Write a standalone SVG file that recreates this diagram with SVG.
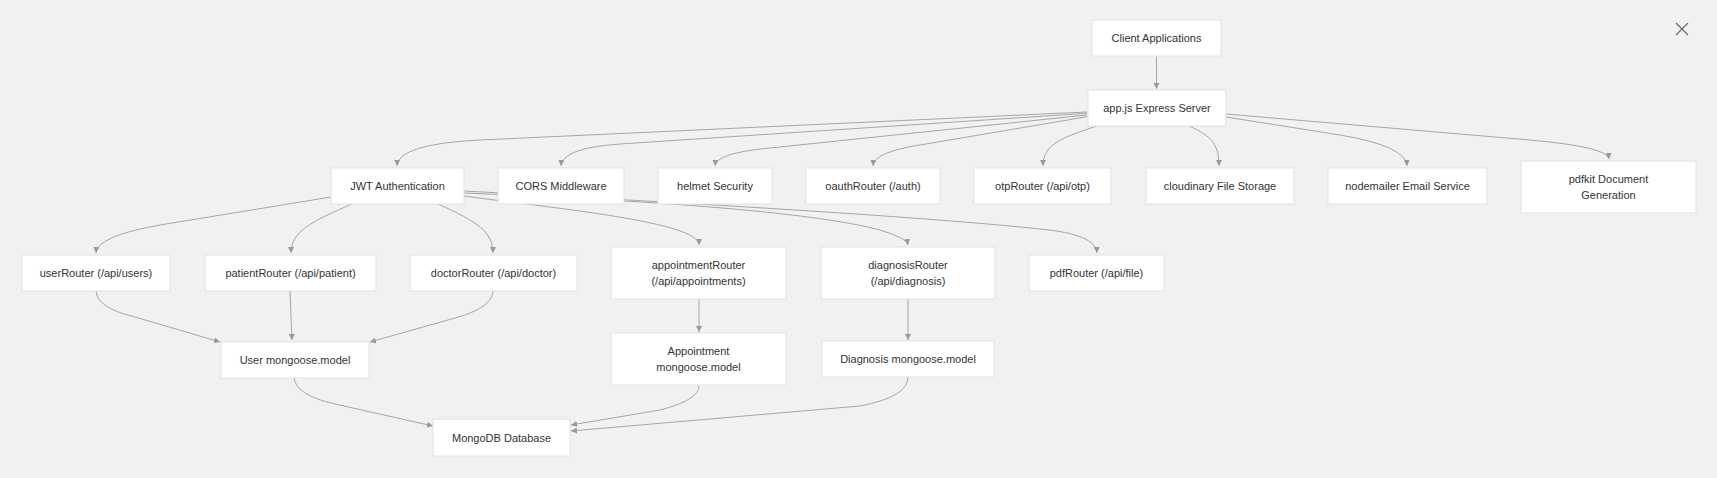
<svg xmlns="http://www.w3.org/2000/svg" width="1717" height="478" viewBox="0 0 1717 478">
<style>
.bg{fill:#f2f1f0}
.node rect{fill:#ffffff;stroke:#e2e2e2;stroke-width:1}
.node text{font-family:"Liberation Sans",Arial,sans-serif;font-size:11px;fill:#333333;text-anchor:middle;dominant-baseline:central}
.edge{fill:none;stroke:#a6a6a6;stroke-width:1;marker-end:url(#arr)}
.close{stroke:#6e6e6e;stroke-width:1.3;fill:none}
</style>
<defs>
<marker id="arr" viewBox="0 0 10 10" refX="10" refY="5" markerWidth="6" markerHeight="6" markerUnits="userSpaceOnUse" orient="auto">
<path d="M0,0 L10,5 L0,10 z" fill="#999999"/>
</marker>
</defs>
<rect class="bg" x="0" y="0" width="1717" height="478"/>
<g id="connectors">
<path class="edge" d="M1156.5,56 L1156.5,89"/>
<path class="edge" d="M1087,112 L480,140 Q398,144 397,166"/>
<path class="edge" d="M1087,113.3 L620,144 Q562,148 561,166"/>
<path class="edge" d="M1087,115 L770,148 Q716,153 715,166"/>
<path class="edge" d="M1087,116.7 L920,145 Q874,152 873,166"/>
<path class="edge" d="M1097,126 C1060,138 1043,145 1043,166"/>
<path class="edge" d="M1189,126 C1212,136 1219,145 1219,166"/>
<path class="edge" d="M1226,117 L1340,135 Q1406,146 1407,166"/>
<path class="edge" d="M1226,114 L1530,140 Q1608,147 1609,159"/>
<path class="edge" d="M331,197 L160,225 Q97,236 96,253"/>
<path class="edge" d="M352,204 C310,222 291,232 291,253"/>
<path class="edge" d="M438,204 C478,222 493,232 493,253"/>
<path class="edge" d="M464,196 C560,209 699,222 699,245"/>
<path class="edge" d="M464,193 Q790,206 880,230 Q907,238 908,245"/>
<path class="edge" d="M464,191 Q900,214 1040,229 Q1096,234 1097,253"/>
<path class="edge" d="M96,291 Q97,308 135,317 L220,342"/>
<path class="edge" d="M290,291 L292,340"/>
<path class="edge" d="M493,291 Q492,308 455,318 L370,342"/>
<path class="edge" d="M294,377 Q295,395 335,404 L433,426"/>
<path class="edge" d="M699,299 L699,332"/>
<path class="edge" d="M908,299 L908,340"/>
<path class="edge" d="M699,386 Q699,400 660,410 L571,425"/>
<path class="edge" d="M908,377 Q908,397 860,406 L571,431"/>
</g>
<g id="client" class="node"><rect x="1092" y="20" width="129" height="36"/><text x="1156.5" y="38">Client Applications</text></g>
<g id="app" class="node"><rect x="1088" y="90" width="138" height="36"/><text x="1157" y="108">app.js Express Server</text></g>
<g id="jwt" class="node"><rect x="331" y="168" width="133" height="36"/><text x="397.5" y="186">JWT Authentication</text></g>
<g id="cors" class="node"><rect x="498" y="168" width="126" height="36"/><text x="561" y="186">CORS Middleware</text></g>
<g id="helmet" class="node"><rect x="658" y="168" width="114" height="36"/><text x="715" y="186">helmet Security</text></g>
<g id="oauth" class="node"><rect x="806" y="168" width="134" height="36"/><text x="873" y="186">oauthRouter (/auth)</text></g>
<g id="otp" class="node"><rect x="974" y="168" width="137" height="36"/><text x="1042.5" y="186">otpRouter (/api/otp)</text></g>
<g id="cloudinary" class="node"><rect x="1146" y="168" width="148" height="36"/><text x="1220" y="186">cloudinary File Storage</text></g>
<g id="nodemailer" class="node"><rect x="1328" y="168" width="159" height="36"/><text x="1407.5" y="186">nodemailer Email Service</text></g>
<g id="pdfkit" class="node"><rect x="1521" y="161" width="175" height="52"/><text x="1608.5" y="179">pdfkit Document</text><text x="1608.5" y="195">Generation</text></g>
<g id="userRouter" class="node"><rect x="22" y="255" width="148" height="36"/><text x="96" y="273">userRouter (/api/users)</text></g>
<g id="patientRouter" class="node"><rect x="205" y="255" width="171" height="36"/><text x="290.5" y="273">patientRouter (/api/patient)</text></g>
<g id="doctorRouter" class="node"><rect x="410" y="255" width="167" height="36"/><text x="493.5" y="273">doctorRouter (/api/doctor)</text></g>
<g id="appointmentRouter" class="node"><rect x="611" y="247" width="175" height="52"/><text x="698.5" y="265">appointmentRouter</text><text x="698.5" y="281">(/api/appointments)</text></g>
<g id="diagnosisRouter" class="node"><rect x="821" y="247" width="174" height="52"/><text x="908" y="265">diagnosisRouter</text><text x="908" y="281">(/api/diagnosis)</text></g>
<g id="pdfRouter" class="node"><rect x="1029" y="255" width="135" height="36"/><text x="1096.5" y="273">pdfRouter (/api/file)</text></g>
<g id="userModel" class="node"><rect x="221" y="342" width="148" height="36"/><text x="295" y="360">User mongoose.model</text></g>
<g id="appointmentModel" class="node"><rect x="611" y="333" width="175" height="52"/><text x="698.5" y="351">Appointment</text><text x="698.5" y="367">mongoose.model</text></g>
<g id="diagnosisModel" class="node"><rect x="822" y="341" width="172" height="36"/><text x="908" y="359">Diagnosis mongoose.model</text></g>
<g id="mongo" class="node"><rect x="433" y="419" width="137" height="37"/><text x="501.5" y="437.5">MongoDB Database</text></g>
<g id="closeIcon"><path class="close" d="M1676,23 L1688,35 M1688,23 L1676,35"/></g>
</svg>
